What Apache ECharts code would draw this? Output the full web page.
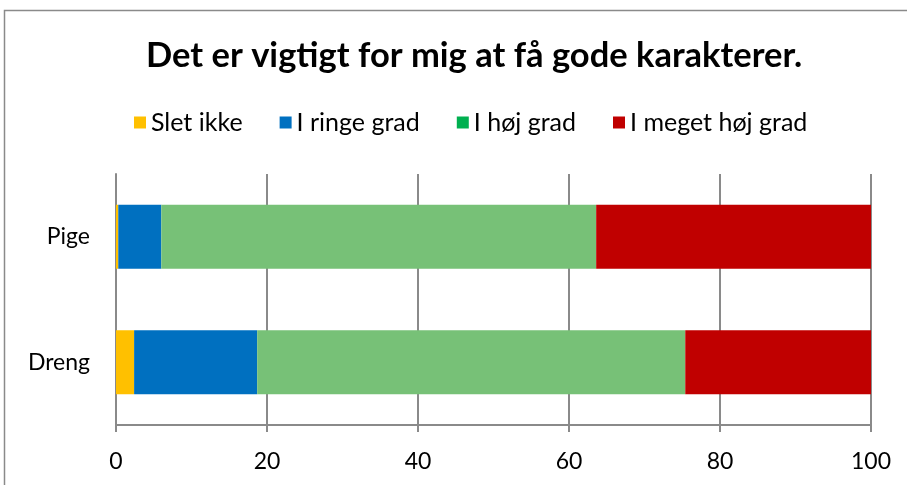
<!DOCTYPE html>
<html>
<head>
<meta charset="utf-8">
<script src="https://cdn.jsdelivr.net/npm/echarts@6/dist/echarts.min.js"></script>
<style>
html, body { margin: 0; padding: 0; background: #fff; }
#chart { width: 907px; height: 485px; }
</style>
</head>
<body>
<div id="chart"></div>
<script>
var categories = ['Dreng', 'Pige'];
var sletIkke = [2.4, 0.3];
var iRingeGrad = [16.3, 5.7];
var iHojGrad = [56.7, 57.6];
var iMegetHojGrad = [24.6, 36.4];
var xTicks = [0, 20, 40, 60, 80, 100];

initChart();

function initChart(){
	var chart = echarts.init(document.getElementById('chart'));
	var font = 'Lato, "Open Sans", sans-serif';
	var barW = 64;
	option = {
		textStyle: { fontFamily: font },
		graphic: [{
			type: 'rect',
			shape: { x: 4.5, y: 10.5, width: 1000, height: 1000 },
			style: { fill: 'none', stroke: '#8a8a8a', lineWidth: 1.5 },
			silent: true
		}],
		title: {
			text: 'Det er vigtigt for mig at få gode karakterer.',
			left: 141,
			top: 33,
			textStyle: { fontFamily: font, fontSize: 34.5, fontWeight: 'bold', color: '#000' }
		},
		legend: {
			top: 105,
			left: 129,
			itemWidth: 12,
			itemHeight: 12,
			itemGap: 37,
			icon: 'rect',
			textStyle: { fontFamily: font, fontSize: 25, color: '#000' },
			data: [
				{ name: 'Slet ikke' },
				{ name: 'I ringe grad' },
				{ name: 'I høj grad', itemStyle: { color: '#00B050' } },
				{ name: 'I meget høj grad' }
			]
		},
		grid: { left: 116, right: 36, top: 174, bottom: 60 },
		xAxis: {
			type: 'value',
			min: xTicks[0],
			max: xTicks[xTicks.length - 1],
			interval: 20,
			axisLine: { show: true, lineStyle: { color: '#8a8a8a', width: 2 } },
			axisTick: { show: true, length: 7, lineStyle: { color: '#8a8a8a', width: 2 } },
			axisLabel: { fontFamily: font, fontSize: 23, color: '#000', margin: 25 },
			splitLine: { show: true, lineStyle: { color: '#8a8a8a', width: 2 } }
		},
		yAxis: {
			type: 'category',
			data: categories,
			axisLine: { show: true, lineStyle: { color: '#8a8a8a', width: 2 } },
			axisTick: { show: false },
			axisLabel: { fontFamily: font, fontSize: 23, color: '#000', margin: 26 }
		},
		series: [
			{ name: 'Slet ikke', type: 'bar', stack: 'a', barWidth: barW, data: sletIkke, itemStyle: { color: '#FFC000' } },
			{ name: 'I ringe grad', type: 'bar', stack: 'a', barWidth: barW, data: iRingeGrad, itemStyle: { color: '#0070C0' } },
			{ name: 'I høj grad', type: 'bar', stack: 'a', barWidth: barW, data: iHojGrad, itemStyle: { color: '#77C177' } },
			{ name: 'I meget høj grad', type: 'bar', stack: 'a', barWidth: barW, data: iMegetHojGrad, itemStyle: { color: '#C00000' } }
		]
	};
	chart.setOption(option);
}
</script>
</body>
</html>
